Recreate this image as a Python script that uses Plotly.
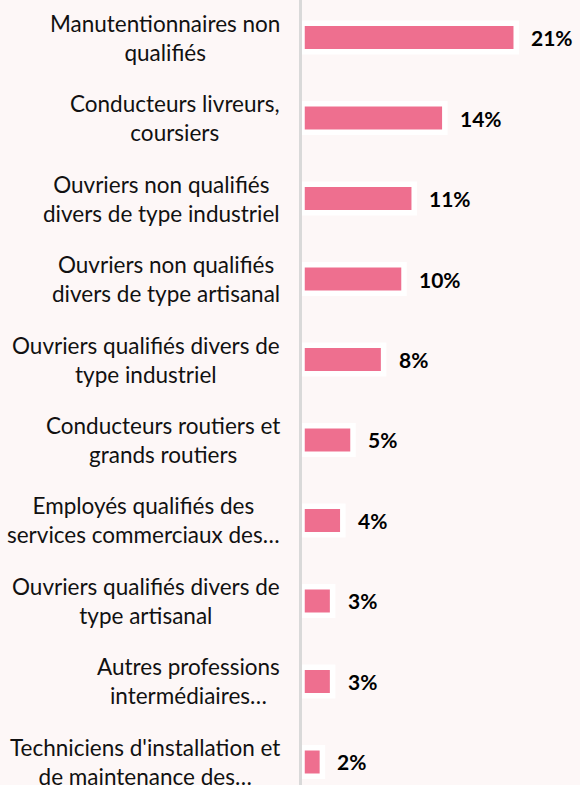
import plotly.graph_objects as go

# Occupational categories (two-line labels) and their shares in %
categories = [
    "Manutentionnaires non<br>qualifiés",
    "Conducteurs livreurs,<br>coursiers",
    "Ouvriers non qualifiés<br>divers de type industriel",
    "Ouvriers non qualifiés<br>divers de type artisanal",
    "Ouvriers qualifiés divers de<br>type industriel",
    "Conducteurs routiers et<br>grands routiers",
    "Employés qualifiés des<br>services commerciaux des…",
    "Ouvriers qualifiés divers de<br>type artisanal",
    "Autres professions<br>intermédiaires…",
    "Techniciens d'installation et<br>de maintenance des…",
]
shares = [21, 14, 11, 10, 8, 5, 4, 3, 3, 2]
share_labels = [f"{v}%" for v in shares]

BG = "#FDF7F7"
PINK = "#EE6F8F"
FONT = "Lato"

fig = go.Figure(
    go.Bar(
        x=shares,
        y=categories,
        orientation="h",
        width=0.354,
        marker=dict(color=PINK, line=dict(color="white", width=5.5)),
        hoverinfo="skip",
    )
)

annotations = []
# category names, centred lines, block right-aligned next to the axis
for cat in categories:
    annotations.append(dict(
        x=0, xref="paper", y=cat, yref="y",
        text=cat, showarrow=False, xanchor="right", yanchor="middle",
        align="center", xshift=-20,
        font=dict(family=FONT, size=22.5, color="#111111"),
    ))
# value labels after each bar
for cat, v, lab in zip(categories, shares, share_labels):
    annotations.append(dict(
        x=v, xref="x", y=cat, yref="y",
        text=f"<b>{lab}</b>", showarrow=False, xanchor="left", yanchor="middle",
        xshift=13,
        font=dict(family=FONT, size=21, color="#000000"),
    ))

fig.update_layout(
    width=580, height=785,
    margin=dict(l=302, r=0, t=0, b=0),
    paper_bgcolor=BG, plot_bgcolor=BG,
    showlegend=False,
    annotations=annotations,
    xaxis=dict(range=[0, 27.25], visible=False, fixedrange=True),
    yaxis=dict(
        type="category", categoryorder="array", categoryarray=categories,
        range=[9.286, -0.466], showticklabels=False, ticks="",
        showgrid=False, zeroline=False,
        showline=True, linecolor="#D9D9D9", linewidth=3,
        fixedrange=True,
    ),
)

fig.write_html("out.html")
